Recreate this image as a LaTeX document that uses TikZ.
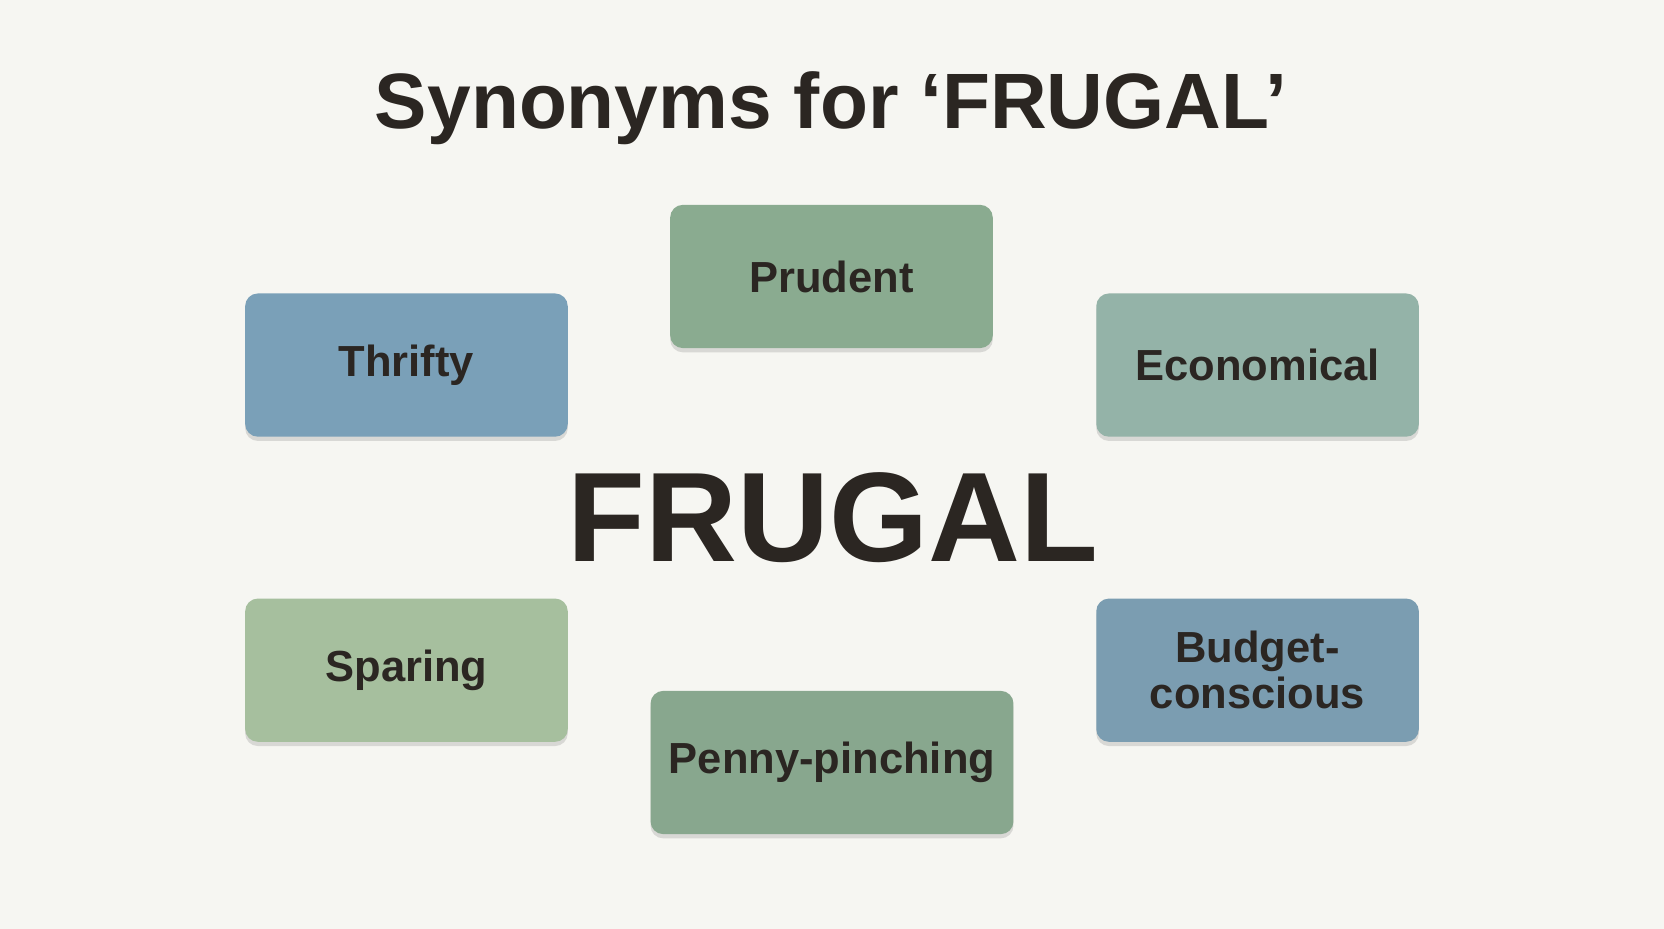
\documentclass[tikz,border=0pt]{standalone}
\usepackage{fontspec}
\setmainfont{Liberation Sans}
\usetikzlibrary{shadows}
\definecolor{bgcol}{HTML}{F6F6F2}
\definecolor{inkcol}{HTML}{2B2622}
\definecolor{prudcol}{HTML}{8AAB90}
\definecolor{thrcol}{HTML}{7AA0B8}
\definecolor{ecocol}{HTML}{94B3A8}
\definecolor{sparcol}{HTML}{A6BF9E}
\definecolor{budcol}{HTML}{7B9DB1}
\definecolor{pencol}{HTML}{88A78E}
\begin{document}
\begin{tikzpicture}[x=0.5pt,y=-0.5pt,
    syn/.style={rounded corners=6pt, minimum height=67.5pt, text=inkcol,
      font=\bfseries\fontsize{20.5}{21.5}\selectfont, align=center,
      drop shadow={shadow xshift=0pt, shadow yshift=-2pt, opacity=0.25}},
    title/.style={text=inkcol, font=\bfseries\fontsize{37}{39}\selectfont}]
    \fill[bgcol] (0,0) rectangle (1568,875);
    \useasboundingbox (0,0) rectangle (1568,875);

    \node[title] (head) at (783,102) {Synonyms for ‘FRUGAL’};
    \node[text=inkcol, font=\bfseries\fontsize{60}{62}\selectfont] (word) at (785,488) {FRUGAL};

    \node[syn, fill=prudcol, minimum width=152pt] (prudent) at (783.5,260.5) {Prudent};
    \node[syn, fill=thrcol, minimum width=152pt] (thrifty) at (383,344) {Thrifty};
    \node[syn, fill=ecocol, minimum width=152pt] (econ) at (1185,344) {Economical};
    \node[syn, fill=sparcol, minimum width=152pt] (sparing) at (383,631.5) {Sparing};
    \node[syn, fill=budcol, minimum width=152pt] (budget) at (1185,631.5) {Budget-\\conscious};
    \node[syn, fill=pencol, minimum width=171pt] (penny) at (784,718.5) {Penny-pinching};
\end{tikzpicture}
\end{document}
